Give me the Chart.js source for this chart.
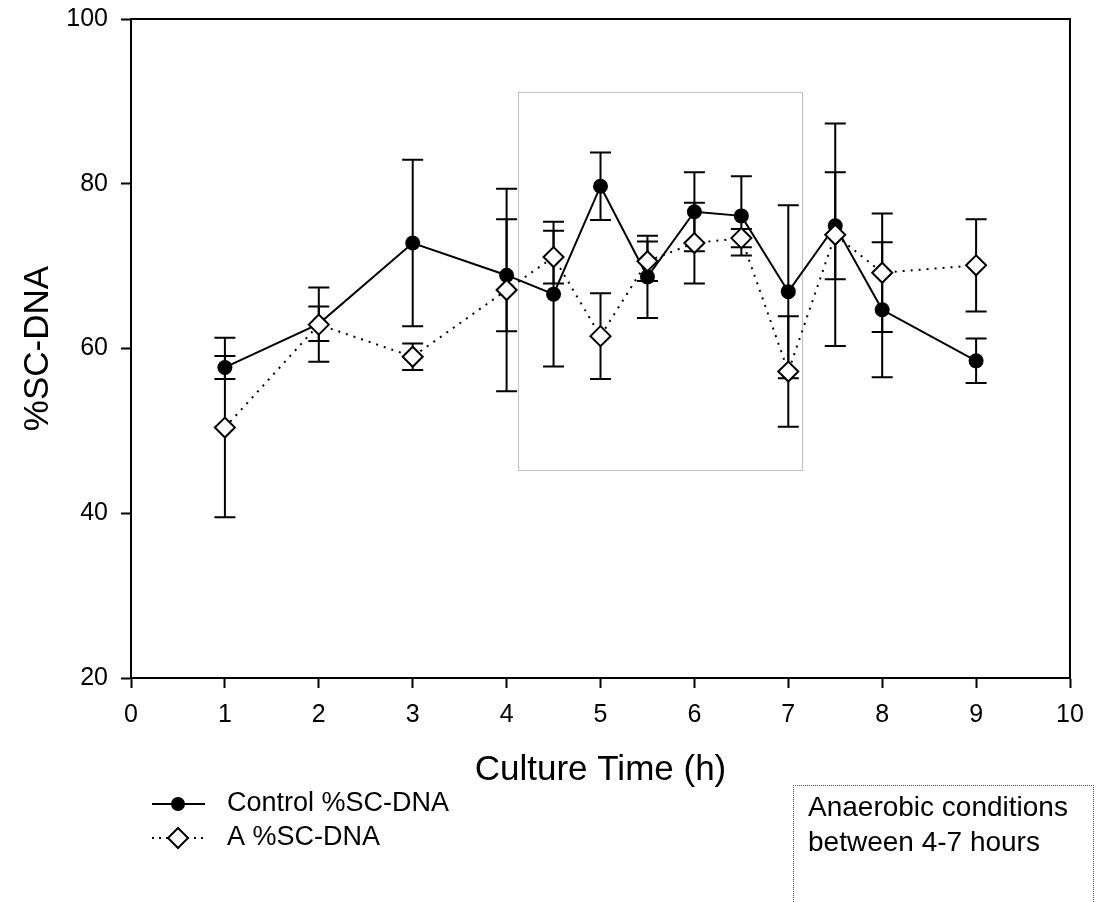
<!DOCTYPE html>
<html>
<head>
<meta charset="utf-8">
<script src="https://cdn.jsdelivr.net/npm/chart.js@4.4.0/dist/chart.umd.min.js"></script>
<style>
  html, body { margin: 0; padding: 0; background: #fff; }
  #wrap { position: relative; width: 1096px; height: 902px; }
</style>
</head>
<body>
<div id="wrap"><canvas id="dnaChart" width="1096" height="902"></canvas></div>
<script>
// values
const hours = [1, 2, 3, 4, 4.5, 5, 5.5, 6, 6.5, 7, 7.5, 8, 9];
const controlMean = [57.7, 63.0, 72.8, 68.9, 66.6, 79.7, 68.7, 76.6, 76.1, 66.9, 74.9, 64.7, 58.5];
const controlErr = [1.4, 2.1, 10.1, 6.8, 8.8, 4.1, 5.0, 4.8, 4.8, 10.5, 6.5, 8.2, 2.7];
const aMean = [50.4, 62.9, 59.0, 67.1, 71.1, 61.5, 70.6, 72.8, 73.4, 57.2, 73.8, 69.2, 70.1];
const aErr = [10.9, 4.5, 1.6, 12.3, 3.2, 5.2, 2.4, 4.9, 1.1, 6.7, 13.5, 7.2, 5.6];
const seriesNames = ['Control %SC-DNA', 'A %SC-DNA'];
const xTicks = [0, 1, 2, 3, 4, 5, 6, 7, 8, 9, 10];
const yTicks = [20, 40, 60, 80, 100];
// dotted box marking the anaerobic period (data units)
const anaerobicX = [4.12, 7.14];
const anaerobicY = [45.2, 91.1];
const noteLines = ['Anaerobic conditions', 'between 4-7 hours'];

const FONT = "'Liberation Sans', Arial, sans-serif";

function toPoints(xs, ys) {
    return xs.map(function(x, i) { return { x: x, y: ys[i] }; });
}

const errorLookup = [controlErr, aErr];

const extrasPlugin = {
    id: 'extras',
    beforeDatasetsDraw: function(chart) {
        const ctx = chart.ctx;
        const xs = chart.scales.x;
        const ys = chart.scales.y;

        // anaerobic period box
        ctx.save();
        ctx.strokeStyle = '#808080';
        ctx.lineWidth = 1;
        ctx.setLineDash([1, 1]);
        const bx1 = xs.getPixelForValue(anaerobicX[0]);
        const bx2 = xs.getPixelForValue(anaerobicX[1]);
        const by1 = ys.getPixelForValue(anaerobicY[1]);
        const by2 = ys.getPixelForValue(anaerobicY[0]);
        ctx.strokeRect(Math.round(bx1) + 0.5, Math.round(by1) + 0.5, Math.round(bx2 - bx1), Math.round(by2 - by1));
        ctx.restore();

        // error bars
        ctx.save();
        ctx.strokeStyle = '#000';
        ctx.lineWidth = 2;
        chart.data.datasets.forEach(function(ds, di) {
            const errs = errorLookup[di];
            ds.data.forEach(function(pt, i) {
                const px = xs.getPixelForValue(pt.x);
                const top = ys.getPixelForValue(pt.y + errs[i]);
                const bot = ys.getPixelForValue(pt.y - errs[i]);
                ctx.beginPath();
                ctx.moveTo(px, top);
                ctx.lineTo(px, bot);
                ctx.moveTo(px - 10.5, top);
                ctx.lineTo(px + 10.5, top);
                ctx.moveTo(px - 10.5, bot);
                ctx.lineTo(px + 10.5, bot);
                ctx.stroke();
            });
        });
        ctx.restore();
    },
    afterDraw: function(chart) {
        const ctx = chart.ctx;
        const area = chart.chartArea;

        // top and right sides of the frame
        ctx.save();
        ctx.strokeStyle = '#000';
        ctx.lineWidth = 2;
        ctx.beginPath();
        ctx.moveTo(area.left, area.top);
        ctx.lineTo(area.right, area.top);
        ctx.lineTo(area.right, area.bottom);
        ctx.stroke();
        ctx.restore();

        // legend
        ctx.save();
        ctx.font = '27px ' + FONT;
        ctx.fillStyle = '#000';
        ctx.textBaseline = 'middle';
        ctx.strokeStyle = '#000';
        ctx.lineWidth = 2;

        const rows = [804, 838];
        // row 1: solid line + filled circle
        ctx.beginPath();
        ctx.moveTo(152, rows[0]);
        ctx.lineTo(205, rows[0]);
        ctx.stroke();
        ctx.beginPath();
        ctx.arc(178, rows[0], 7, 0, Math.PI * 2);
        ctx.fill();
        ctx.fillText(seriesNames[0], 227, rows[0]);

        // row 2: dotted line + open diamond
        ctx.setLineDash([2, 5]);
        ctx.beginPath();
        ctx.moveTo(152, rows[1]);
        ctx.lineTo(205, rows[1]);
        ctx.stroke();
        ctx.setLineDash([]);
        ctx.beginPath();
        ctx.moveTo(178, rows[1] - 10);
        ctx.lineTo(188, rows[1]);
        ctx.lineTo(178, rows[1] + 10);
        ctx.lineTo(168, rows[1]);
        ctx.closePath();
        ctx.fillStyle = '#fff';
        ctx.fill();
        ctx.stroke();
        ctx.fillStyle = '#000';
        ctx.fillText(seriesNames[1], 227, rows[1]);
        ctx.restore();

        // note box (runs off the bottom edge)
        ctx.save();
        ctx.strokeStyle = '#555';
        ctx.lineWidth = 1;
        ctx.setLineDash([1, 1]);
        ctx.beginPath();
        ctx.moveTo(793.5, 910);
        ctx.lineTo(793.5, 785.5);
        ctx.lineTo(1093.5, 785.5);
        ctx.lineTo(1093.5, 910);
        ctx.stroke();
        ctx.setLineDash([]);
        ctx.font = '28px ' + FONT;
        ctx.fillStyle = '#000';
        ctx.textBaseline = 'middle';
        ctx.fillText(noteLines[0], 808, 808);
        ctx.fillText(noteLines[1], 808, 843);
        ctx.restore();
    }
};

new Chart(document.getElementById('dnaChart').getContext('2d'), {
    type: 'line',
    data: {
        datasets: [{
            label: seriesNames[0],
            data: toPoints(hours, controlMean),
            borderColor: '#000',
            borderWidth: 2,
            pointStyle: 'circle',
            pointRadius: 7.5,
            pointBackgroundColor: '#000',
            pointBorderColor: '#000',
            pointBorderWidth: 0,
            tension: 0,
            order: 1
        }, {
            label: seriesNames[1],
            data: toPoints(hours, aMean),
            borderColor: '#000',
            borderWidth: 2,
            borderDash: [2, 6],
            pointStyle: 'rectRot',
            pointRadius: 10,
            pointBackgroundColor: '#fff',
            pointBorderColor: '#000',
            pointBorderWidth: 2,
            tension: 0,
            order: 0
        }]
    },
    options: {
        responsive: false,
        animation: false,
        devicePixelRatio: 1,
        layout: {
            padding: { top: 19, right: 26, left: 0, bottom: 0 }
        },
        plugins: {
            legend: { display: false },
            tooltip: { enabled: false }
        },
        scales: {
            x: {
                type: 'linear',
                min: 0,
                max: 10,
                afterBuildTicks: function(scale) {
                    scale.ticks = xTicks.map(function(v) { return { value: v }; });
                },
                afterFit: function(scale) {
                    scale.height = 224;
                    scale.paddingLeft = 0;
                    scale.paddingRight = 0;
                },
                ticks: {
                    color: '#000',
                    font: { family: FONT, size: 25 },
                    padding: 12,
                    maxRotation: 0,
                    autoSkip: false
                },
                grid: {
                    drawOnChartArea: false,
                    drawTicks: true,
                    tickLength: 10,
                    tickWidth: 2,
                    tickColor: '#000'
                },
                border: { color: '#000', width: 2 },
                title: {
                    display: true,
                    text: 'Culture Time (h)',
                    color: '#000',
                    font: { family: FONT, size: 35 },
                    padding: { top: 0, bottom: 111 }
                }
            },
            y: {
                min: 20,
                max: 100,
                afterBuildTicks: function(scale) {
                    scale.ticks = yTicks.map(function(v) { return { value: v }; });
                },
                afterFit: function(scale) {
                    scale.width = 131;
                    scale.paddingTop = 0;
                    scale.paddingBottom = 0;
                },
                ticks: {
                    color: '#000',
                    font: { family: FONT, size: 25 },
                    padding: 13
                },
                grid: {
                    drawOnChartArea: false,
                    drawTicks: true,
                    tickLength: 10,
                    tickWidth: 2,
                    tickColor: '#000'
                },
                border: { color: '#000', width: 2 },
                title: {
                    display: true,
                    text: '%SC-DNA',
                    color: '#000',
                    font: { family: FONT, size: 35 },
                    padding: { top: 17, bottom: 0 }
                }
            }
        }
    },
    plugins: [extrasPlugin]
});
</script>
</body>
</html>
